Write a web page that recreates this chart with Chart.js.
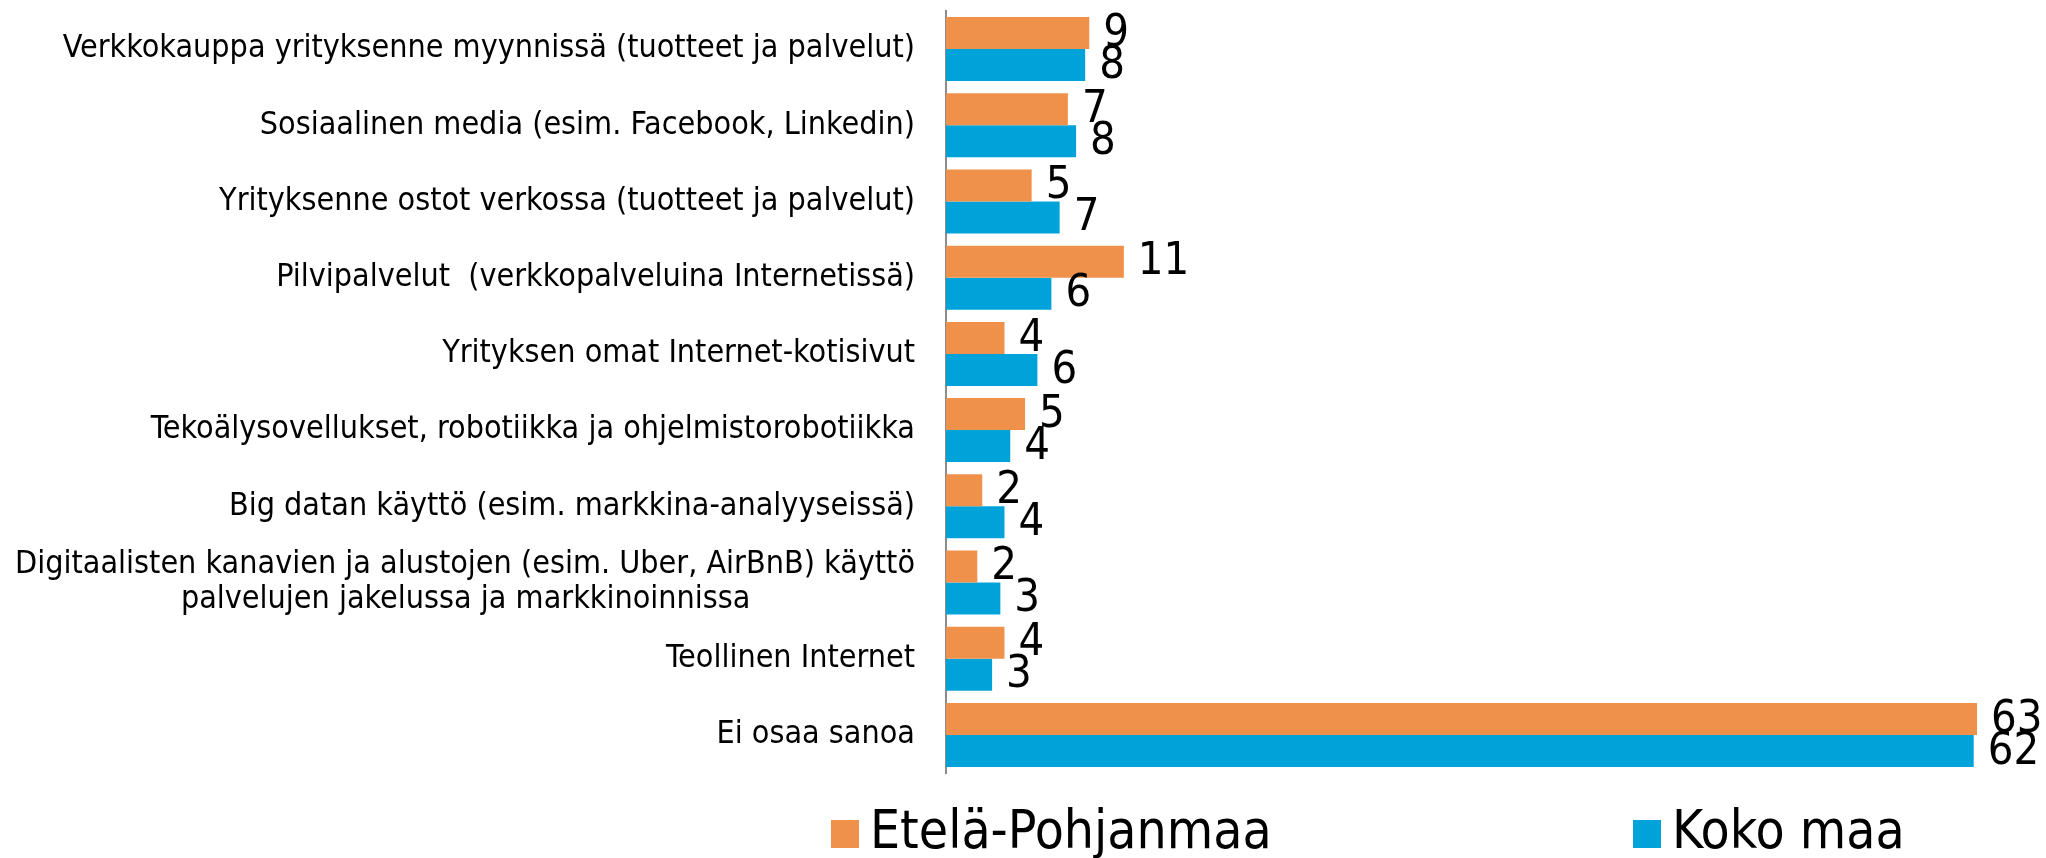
<!DOCTYPE html>
<html>
<head>
<meta charset="utf-8">
<script src="https://cdn.jsdelivr.net/npm/chart.js@4.4.1/dist/chart.umd.min.js"></script>
<style>
  html, body { margin: 0; padding: 0; background: #fff; }
  #wrap { width: 2046px; height: 858px; }
</style>
</head>
<body>
<div id="wrap"><canvas id="chart"></canvas></div>
<script>
const categories = [
    'Verkkokauppa yrityksenne myynnissä (tuotteet ja palvelut)',
    'Sosiaalinen media (esim. Facebook, Linkedin)',
    'Yrityksenne ostot verkossa (tuotteet ja palvelut)',
    'Pilvipalvelut  (verkkopalveluina Internetissä)',
    'Yrityksen omat Internet-kotisivut',
    'Tekoälysovellukset, robotiikka ja ohjelmistorobotiikka',
    'Big datan käyttö (esim. markkina-analyyseissä)',
    ['Digitaalisten kanavien ja alustojen (esim. Uber, AirBnB) käyttö', 'palvelujen jakelussa ja markkinoinnissa'],
    'Teollinen Internet',
    'Ei osaa sanoa'
];
const seriesNames = ['Etelä-Pohjanmaa', 'Koko maa'];
// percentages, labels in the chart are the rounded values
const etelaPohjanmaa = [8.7, 7.4, 5.2, 10.8, 3.55, 4.8, 2.2, 1.9, 3.55, 62.6];
const kokoMaa = [8.45, 7.9, 6.9, 6.4, 5.55, 3.9, 3.55, 3.3, 2.8, 62.4];

const ORANGE = '#F0914B';
const BLUE = '#00A3D9';
const FONT = '"DejaVu Sans Condensed", "DejaVu Sans"';
const LABEL_SIZE = 32;

// centre the shorter lines of a multi-line label under the longest one
const measureCtx = document.createElement('canvas').getContext('2d');
measureCtx.font = LABEL_SIZE + 'px ' + FONT;
function centreLines(label) {
    if (!Array.isArray(label)) return label;
    const widths = label.map(l => measureCtx.measureText(l).width);
    const maxW = Math.max(...widths);
    const space = measureCtx.measureText(' ').width;
    return label.map((l, i) => l + ' '.repeat(Math.round((maxW - widths[i]) / 2 / space)));
}

const valueLabels = {
    id: 'valueLabels',
    afterDatasetsDraw(chart) {
        const ctx = chart.ctx;
        ctx.save();
        ctx.font = '45px ' + FONT;
        ctx.fillStyle = '#000';
        ctx.textAlign = 'left';
        ctx.textBaseline = 'middle';
        chart.data.datasets.forEach((ds, di) => {
            chart.getDatasetMeta(di).data.forEach((bar, i) => {
                ctx.fillText(String(Math.round(ds.data[i])), bar.x + 14, bar.y + 1);
            });
        });
        ctx.restore();
    }
};

const bottomLegend = {
    id: 'bottomLegend',
    afterDraw(chart, args, opts) {
        const ctx = chart.ctx;
        ctx.save();
        ctx.font = opts.fontSize + 'px ' + FONT;
        ctx.textBaseline = 'alphabetic';
        ctx.textAlign = 'left';
        chart.data.datasets.forEach((ds, i) => {
            const x = opts.itemX[i];
            ctx.fillStyle = ds.backgroundColor;
            ctx.fillRect(x, opts.boxTop, opts.boxSize, opts.boxSize);
            ctx.fillStyle = '#000';
            ctx.fillText(ds.label, x + opts.boxSize + 11, opts.baseline);
        });
        ctx.restore();
    }
};

const ctx = document.getElementById('chart').getContext('2d');
new Chart(ctx, {
    type: 'bar',
    data: {
        labels: categories,
        datasets: [
            {
                label: seriesNames[0],
                data: etelaPohjanmaa,
                backgroundColor: ORANGE,
                borderWidth: 0
            },
            {
                label: seriesNames[1],
                data: kokoMaa,
                backgroundColor: BLUE,
                borderWidth: 0
            }
        ]
    },
    options: {
        indexAxis: 'y',
        responsive: true,
        maintainAspectRatio: false,
        animation: false,
        datasets: {
            bar: {
                categoryPercentage: 0.84,
                barPercentage: 1.0
            }
        },
        layout: {
            padding: {top: 11, bottom: 85, left: 0, right: 13}
        },
        plugins: {
            legend: {display: false},
            tooltip: {enabled: false},
            bottomLegend: {
                itemX: [831, 1633],
                boxTop: 820,
                boxSize: 28,
                baseline: 848,
                fontSize: 53
            }
        },
        scales: {
            x: {
                display: false,
                min: 0,
                max: 66
            },
            y: {
                afterFit: s => {
                    s.width = 946;
                    s.paddingTop = 0;
                    s.paddingBottom = 0;
                },
                grid: {display: false, drawTicks: false},
                border: {display: true, color: '#8c8c8c', width: 2},
                ticks: {
                    padding: 31,
                    color: '#000',
                    font: {family: FONT, size: LABEL_SIZE, lineHeight: 1.1},
                    callback: function (value) {
                        return centreLines(categories[value]);
                    }
                }
            }
        }
    },
    plugins: [valueLabels, bottomLegend]
});
</script>
</body>
</html>
